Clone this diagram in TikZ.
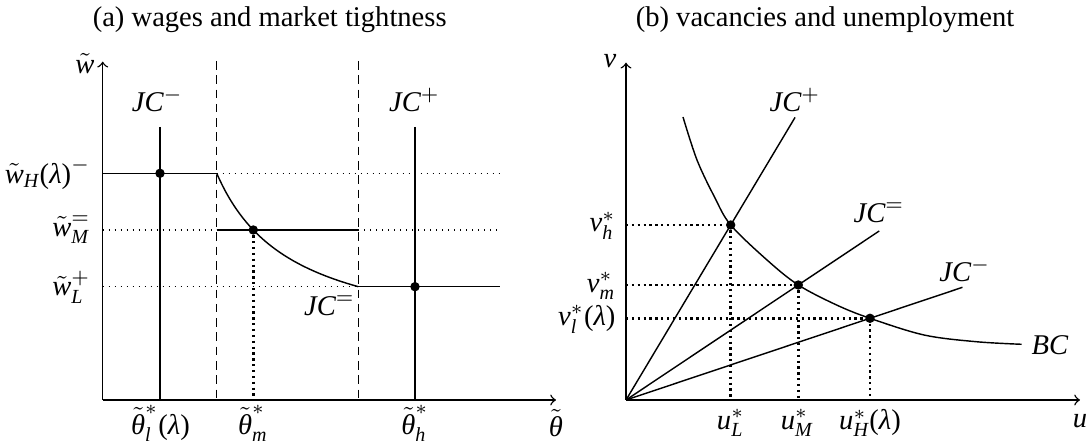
\documentclass[tikz,border=0pt]{standalone}
\usepackage{amsmath}
\usepackage{fontspec}
\setmainfont{Liberation Serif}
\usetikzlibrary{calc}
\newcommand{\mi}[1]{\text{\itshape #1}}
\newcommand{\tp}[1]{\text{\upshape #1}}
\tikzset{
  ln/.style={line width=0.5pt},
  axis/.style={line width=0.5pt,->},
  dashv/.style={line width=0.5pt,dash pattern=on 3pt off 2pt},
  thindot/.style={line width=0.4pt,dash pattern=on 0.4pt off 1.7pt},
  thickdot/.style={line width=0.9pt,dash pattern=on 0.8pt off 1.25pt},
  eqpt/.style={circle,fill=black,inner sep=0pt,minimum size=3.3pt},
  lbl/.style={inner sep=0pt}
}
\begin{document}
\begin{tikzpicture}[x=0.35pt,y=-0.35pt]
\useasboundingbox (0,0) rectangle (1087,443);
% titles
\node[lbl,anchor=base] (ta) at (269.7,27) {(a) wages and market tightness};
\node[lbl,anchor=base] (tb) at (825,27) {(b) vacancies and unemployment};
% ---------- panel (a) ----------
\coordinate (A0) at (102.7,400);
\coordinate (Ax) at (556,400);
\coordinate (Ay) at (102.7,61.7);
\draw[axis] (A0) -- (Ax);
\draw[axis] (A0) -- (Ay);
\node[lbl] (lw) at (85,64) {$\tilde{\mi{w}}$};
\node[lbl] (lth) at (556,423) {$\tilde{\mi{θ}}$};
% dashed boundaries
\coordinate (d1t) at (216.7,61); \coordinate (d1b) at (216.7,400);
\coordinate (d2t) at (358.3,61); \coordinate (d2b) at (358.3,400);
\draw[dashv] (d1t) -- (d1b);
\draw[dashv] (d2t) -- (d2b);
% JC verticals
\coordinate (jmt) at (160,127); \coordinate (jmb) at (160,400);
\coordinate (jpt) at (415,127); \coordinate (jpb) at (415,400);
\draw[ln] (jmt) -- (jmb);
\draw[ln] (jpt) -- (jpb);
\node[lbl] (ljm) at (157.5,100) {$\mi{JC}^{-}$};
\node[lbl] (ljp) at (414.5,100) {$\mi{JC}^{+}$};
\node[lbl] (lje) at (329.5,306) {$\mi{JC}^{=}$};
% wage levels
\coordinate (wH0) at (102.7,173.3); \coordinate (wH1) at (216.7,173.3); \coordinate (wH2) at (500,173.3);
\coordinate (wM0) at (102.7,230); \coordinate (wM1) at (216.7,230); \coordinate (wM2) at (358.3,230); \coordinate (wM3) at (500,230);
\coordinate (wL0) at (102.7,286.7); \coordinate (wL1) at (358.3,286.7); \coordinate (wL2) at (500,286.7);
\draw[ln] (wH0) -- (wH1);
\draw[thindot] (wH1) -- (wH2);
\draw[thindot] (wM0) -- (wM1);
\draw[ln] (wM1) -- (wM2);
\draw[thindot] (wM2) -- (wM3);
\draw[thindot] (wL0) -- (wL1);
\draw[ln] (wL1) -- (wL2);
% JC= curve
\draw[ln] plot[domain=216.7:358.3,samples=80] (\x,{347.4-13199/(\x-140.9)});
% equilibrium points
\node[eqpt] (eA1) at (160,173.3) {};
\node[eqpt] (eA2) at (253.3,230) {};
\node[eqpt] (eA3) at (415,286.7) {};
\coordinate (eA2b) at (253.3,400);
\draw[thickdot] (eA2) -- (eA2b);
% y labels
\node[lbl,anchor=east] (lwH) at (91,174) {$\tilde{\mi{w}}_{\mi{H}}\tp{(}\mi{λ}\tp{)}^{-}$};
\node[lbl,anchor=east] (lwM) at (91,230) {$\tilde{\mi{w}}_{\mi{M}}^{=}$};
\node[lbl,anchor=east] (lwL) at (91,287) {$\tilde{\mi{w}}_{\mi{L}}^{+}$};
% x labels
\node[lbl,anchor=north] (lt1) at (160.5,405) {$\tilde{\mi{θ}}_{\mi{l}}^{*}\tp{(}\mi{λ}\tp{)}$};
\node[lbl,anchor=north] (lt2) at (253,405) {$\tilde{\mi{θ}}_{\mi{m}}^{*}$};
\node[lbl,anchor=north] (lt3) at (415,405) {$\tilde{\mi{θ}}_{\mi{h}}^{*}$};
% ---------- panel (b) ----------
\coordinate (B0) at (626,400);
\coordinate (Bx) at (1080,400);
\coordinate (By) at (626,62.7);
\draw[axis] (B0) -- (Bx);
\draw[axis] (B0) -- (By);
\node[lbl] (lv) at (610,61) {$\mi{v}$};
\node[lbl] (lu) at (1080,421) {$\mi{u}$};
% equilibria
\node[eqpt] (Dh) at (730.7,225) {};
\node[eqpt] (Dm) at (798.3,285) {};
\node[eqpt] (Dl) at (870,318.3) {};
% JC rays
\draw[ln] (B0) -- ($(B0)!1.615!(Dh)$) coordinate (Jp);
\draw[ln] (B0) -- ($(B0)!1.47!(Dm)$) coordinate (Je);
\draw[ln] (B0) -- ($(B0)!1.379!(Dl)$) coordinate (Jm);
\node[lbl] (lJp) at (795,100) {$\mi{JC}^{+}$};
\node[lbl] (lJe) at (879,213) {$\mi{JC}^{=}$};
\node[lbl] (lJm) at (965,270) {$\mi{JC}^{-}$};
% BC curve
\draw[ln] plot[smooth,tension=0.55] coordinates {(683,117) (697,160) (714.5,197) (730.7,225) (767,260) (798.3,285) (836.6,305) (870,318.3) (924,335) (976,341.7) (1021.7,344.3)};
\node[lbl] (lBC) at (1050,345) {$\mi{BC}$};
% dotted guides
\coordinate (vh) at (626,225); \coordinate (vm) at (626,285); \coordinate (vl) at (626,318.3);
\coordinate (uL) at (730.7,400); \coordinate (uM) at (798.3,400); \coordinate (uH) at (870,400);
\draw[thickdot] (vh) -- (Dh);
\draw[thickdot] (vm) -- (Dm);
\draw[thickdot] (vl) -- (Dl);
\draw[thickdot] (Dh) -- (uL);
\draw[thickdot] (Dm) -- (uM);
\draw[thickdot] (Dl) -- (uH);
\node[lbl,anchor=east] (lvh) at (616,226) {$\mi{v}_{\mi{h}}^{*}$};
\node[lbl,anchor=east] (lvm) at (616,286) {$\mi{v}_{\mi{m}}^{*}$};
\node[lbl,anchor=east] (lvl) at (616,319) {$\mi{v}_{\mi{l}}^{*}\tp{(}\mi{λ}\tp{)}$};
\node[lbl,anchor=north] (luL) at (730.7,409) {$\mi{u}_{\mi{L}}^{*}$};
\node[lbl,anchor=north] (luM) at (797,409) {$\mi{u}_{\mi{M}}^{*}$};
\node[lbl,anchor=north] (luH) at (870,409) {$\mi{u}_{\mi{H}}^{*}\tp{(}\mi{λ}\tp{)}$};
\end{tikzpicture}
\end{document}
